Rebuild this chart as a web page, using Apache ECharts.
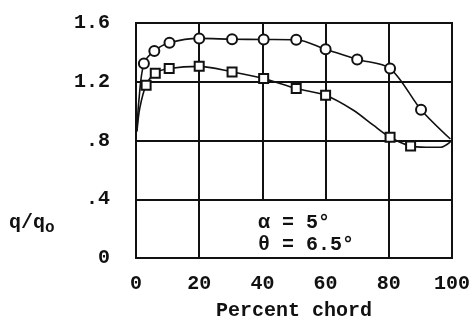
<!DOCTYPE html>
<html>
<head>
<meta charset="utf-8">
<script src="https://cdn.jsdelivr.net/npm/echarts@6/dist/echarts.min.js"></script>
<style>
  html, body { margin: 0; padding: 0; background: #fff; }
  #chart { width: 474px; height: 320px; }
</style>
</head>
<body>
<div id="chart"></div>
<script>
// Measured points: percent chord vs q/q0
const circleX = [2.5, 5.8, 10.6, 20, 30.4, 40.4, 50.7, 60, 70, 80.4, 90.2];
const circleY = [1.325, 1.41, 1.465, 1.495, 1.49, 1.488, 1.486, 1.422, 1.352, 1.29, 1.01];
const squareX = [3.2, 6.1, 10.5, 20, 30.4, 40.4, 50.7, 60, 80.4, 86.9];
const squareY = [1.177, 1.258, 1.29, 1.305, 1.267, 1.222, 1.154, 1.108, 0.822, 0.762];

// Faired curves drawn through the points, including leading/trailing edge
const upperCurveX = [0.3, 0.9, 2.5, 5.8, 10.6, 20, 30.4, 40.4, 50.7, 60, 70, 80.4, 90.2, 99.5];
const upperCurveY = [0.87, 1.07, 1.325, 1.41, 1.465, 1.495, 1.49, 1.488, 1.486, 1.422, 1.352, 1.29, 1.01, 0.81];
const lowerCurveX = [0.3, 1.2, 3.2, 6.1, 10.5, 20, 30.4, 40.4, 50.7, 60, 68.8, 75.1, 80.4, 86.9, 91.8, 96.5, 99.5];
const lowerCurveY = [0.86, 1.02, 1.177, 1.258, 1.29, 1.305, 1.267, 1.222, 1.154, 1.108, 1.006, 0.904, 0.822, 0.762, 0.754, 0.754, 0.79];

const xTicks = [0, 20, 40, 60, 80, 100];
const yTickLabels = ['0', '.4', '.8', '1.2', '1.6'];

// Vertical grid lines: [x, from y, to y]
const vGrid = [[20, 0, 1.6], [40, 0.4, 1.6], [60, 0.4, 1.6], [80, 0, 1.6]];

const zip = (xs, ys) => xs.map((x, i) => [x, ys[i]]);

const FONT = '"Liberation Mono", "Courier New", monospace';
const INK = '#111';

const chart = echarts.init(document.getElementById('chart'), null, { renderer: 'canvas' });

chart.setOption({
  animation: false,
  backgroundColor: '#fff',
  grid: {
    left: 136, right: 22, top: 23, bottom: 62,
    outerBoundsMode: 'none', containLabel: false,
    show: true, borderColor: INK, borderWidth: 2, backgroundColor: 'transparent'
  },
  xAxis: {
    type: 'value', min: 0, max: 100, interval: 20,
    axisLine: { show: false },
    axisTick: { show: false },
    splitLine: { show: false },
    axisLabel: {
      margin: 16, color: INK, fontFamily: FONT, fontWeight: 'bold', fontSize: 20,
      formatter: v => xTicks.includes(v) ? String(v) : ''
    },
    name: 'Percent chord', nameLocation: 'middle', nameGap: 43,
    nameTextStyle: { color: INK, fontFamily: FONT, fontWeight: 'bold', fontSize: 20 }
  },
  yAxis: {
    type: 'value', min: 0, max: 1.6, interval: 0.4,
    axisLine: { show: false },
    axisTick: { show: false },
    splitLine: { show: true, lineStyle: { color: INK, width: 2 } },
    axisLabel: {
      margin: 26, color: INK, fontFamily: FONT, fontWeight: 'bold', fontSize: 20,
      formatter: v => yTickLabels[Math.round(v / 0.4)]
    }
  },
  graphic: [
    {
      type: 'text', left: 9, top: 213,
      style: {
        text: '{a|q/q}{b|o}',
        rich: {
          a: { fontFamily: FONT, fontWeight: 'bold', fontSize: 20, fill: INK },
          b: { fontFamily: FONT, fontWeight: 'bold', fontSize: 16, fill: INK, padding: [9, 0, 0, 0] }
        }
      }
    },
    {
      type: 'text', left: 258, top: 212,
      style: {
        text: 'α = 5°\nθ = 6.5°',
        fontFamily: FONT, fontWeight: 'bold', fontSize: 20, lineHeight: 22, fill: INK
      }
    }
  ],
  series: [
    {
      type: 'line', data: [], silent: true,
      markLine: {
        silent: true, symbol: 'none', label: { show: false },
        lineStyle: { color: INK, width: 2, type: 'solid' },
        data: vGrid.map(([x, y0, y1]) => [{ coord: [x, y0] }, { coord: [x, y1] }])
      }
    },
    {
      type: 'line', data: zip(upperCurveX, upperCurveY), smooth: 0.3,
      showSymbol: false, lineStyle: { color: INK, width: 1.6 }, z: 3
    },
    {
      type: 'line', data: zip(lowerCurveX, lowerCurveY), smooth: 0.3,
      showSymbol: false, lineStyle: { color: INK, width: 1.6 }, z: 3
    },
    {
      type: 'scatter', data: zip(circleX, circleY), symbol: 'circle', symbolSize: 10,
      itemStyle: { color: '#fff', opacity: 1, borderColor: INK, borderWidth: 2 }, z: 5
    },
    {
      type: 'scatter', data: zip(squareX, squareY), symbol: 'rect', symbolSize: 9,
      itemStyle: { color: '#fff', opacity: 1, borderColor: INK, borderWidth: 2 }, z: 5
    }
  ]
});
</script>
</body>
</html>
